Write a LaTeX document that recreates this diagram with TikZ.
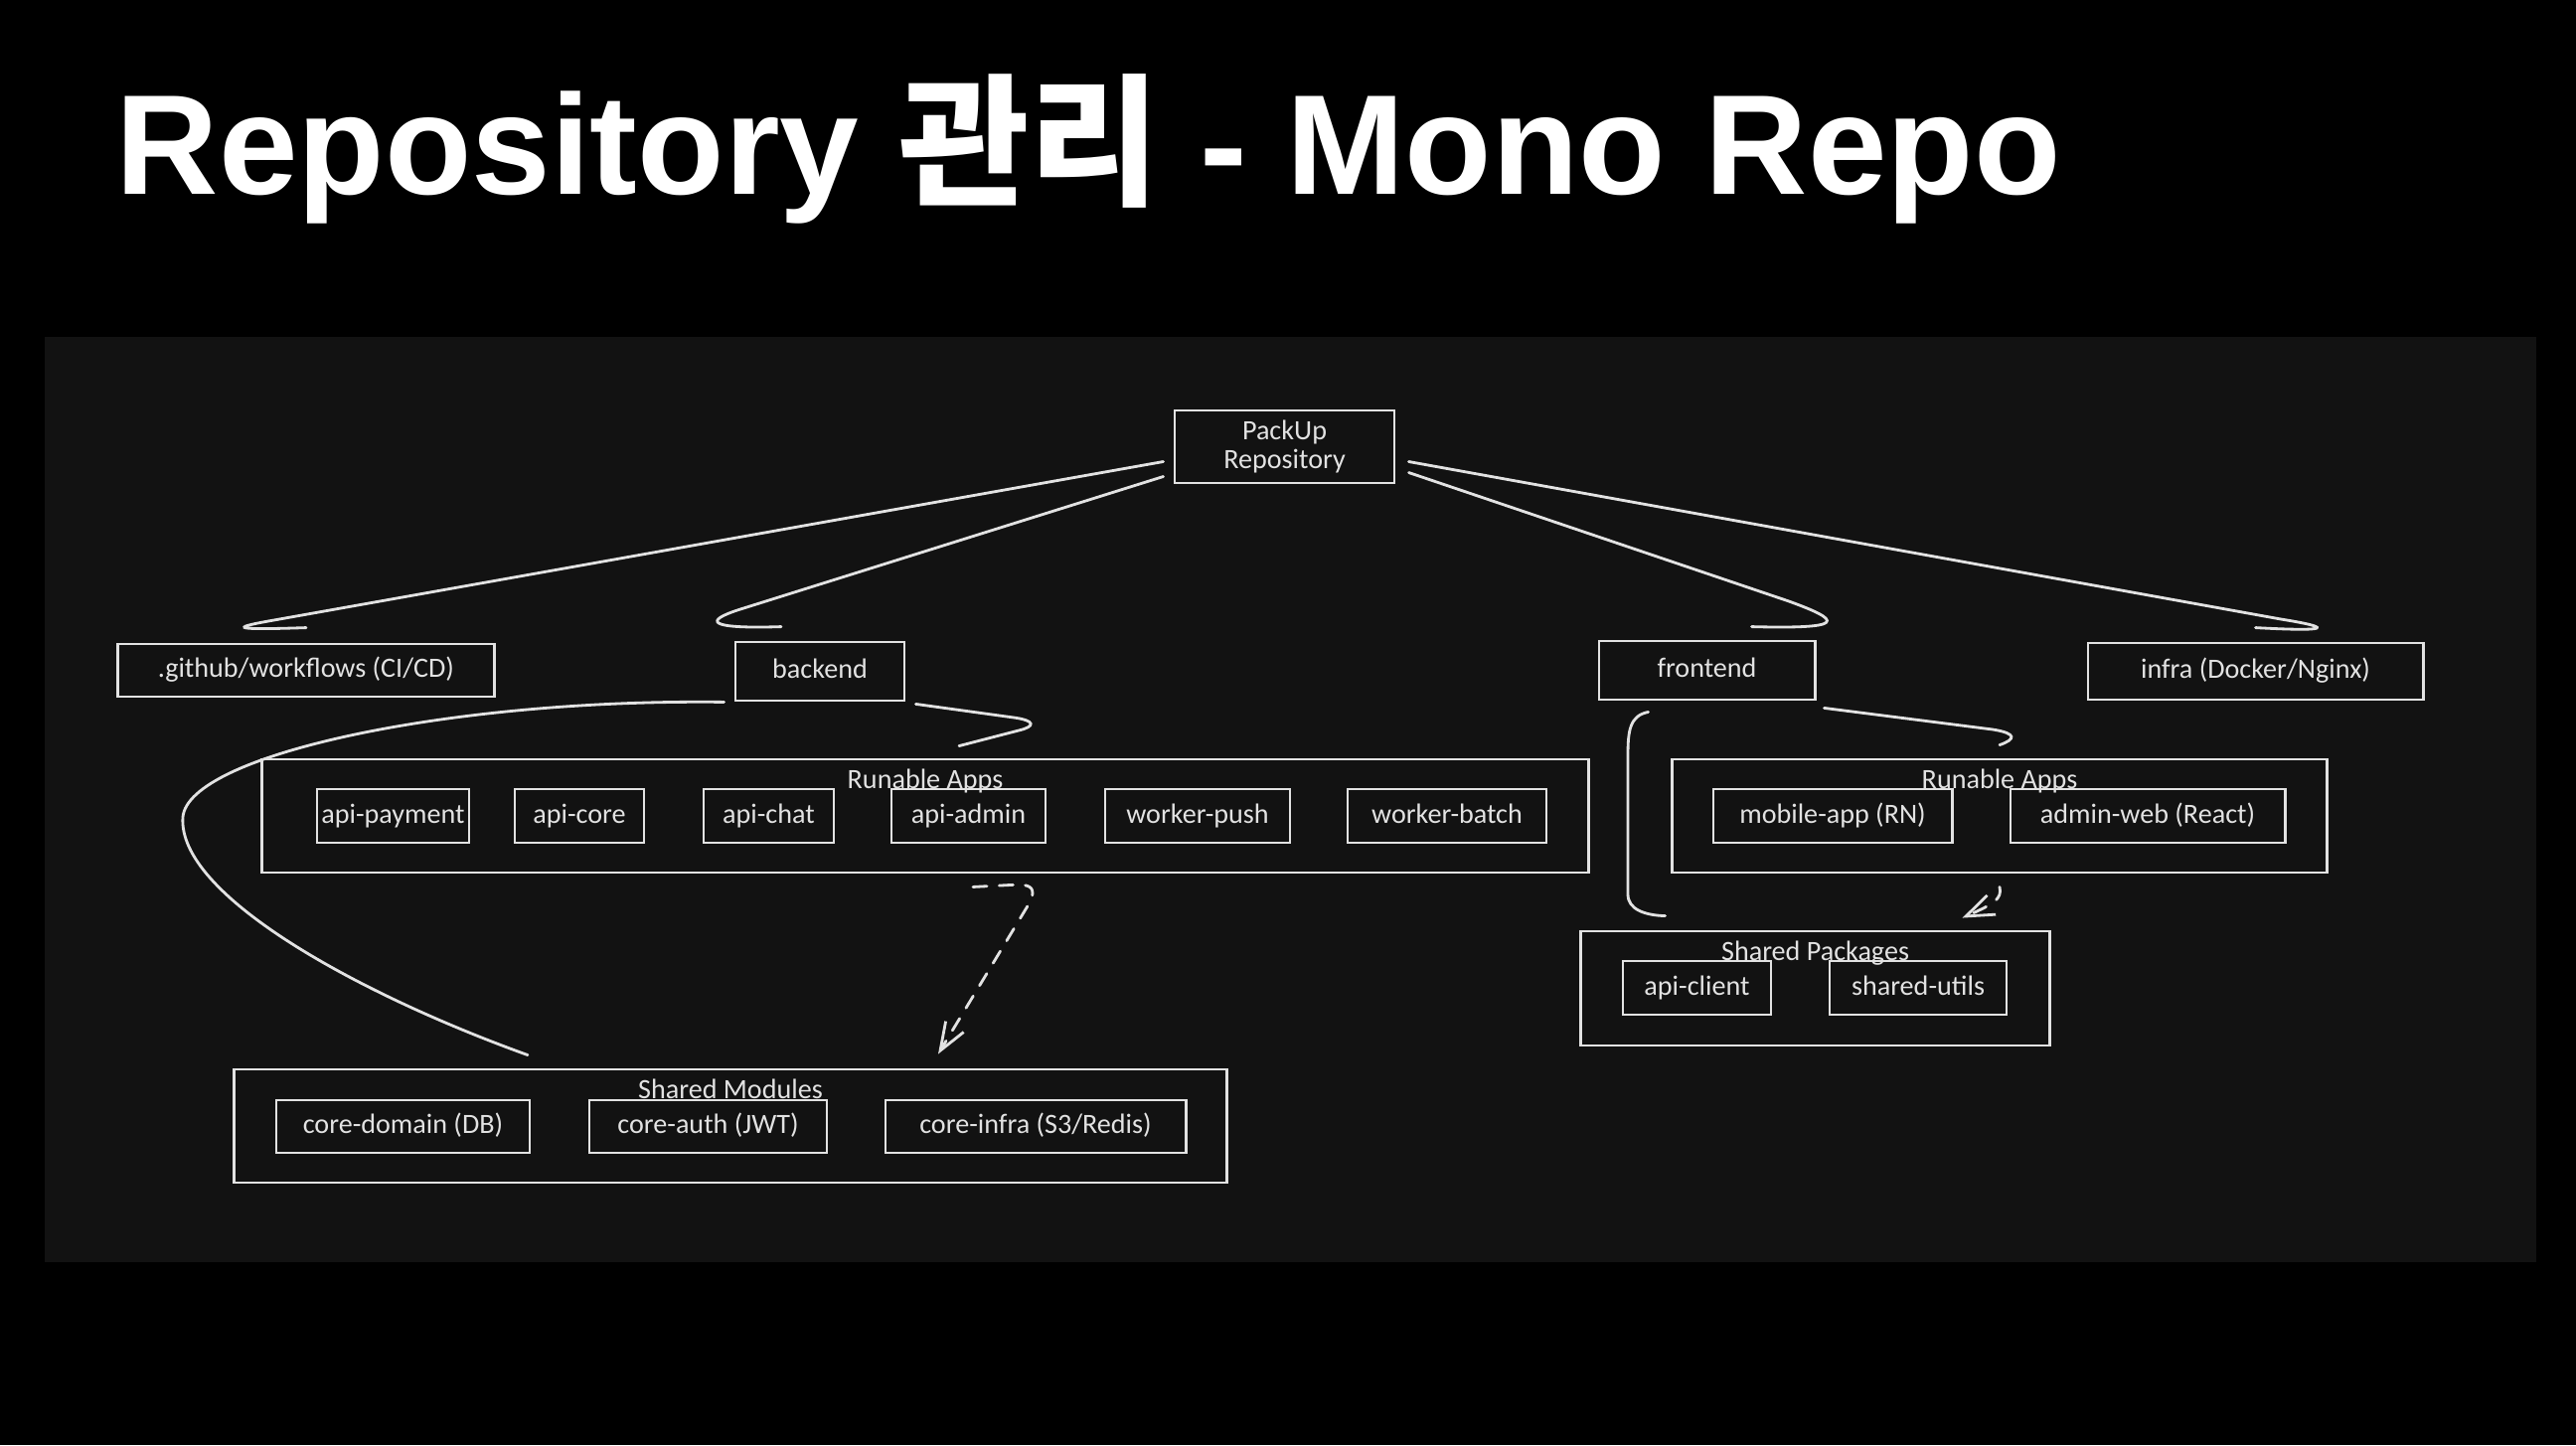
\documentclass[tikz,border=0pt]{standalone}
\usepackage{fontspec}
\setmainfont{Carlito}
\newfontfamily\titlefont{Liberation Sans}
\newfontfamily\krfont{Noto Sans CJK KR}
\usetikzlibrary{positioning,calc,arrows.meta}

\definecolor{panelbg}{HTML}{121212}
\definecolor{chalk}{HTML}{E2E2E2}

\tikzset{
  rootbox/.style={draw=chalk, line width=0.8pt, text=chalk, inner sep=0pt, align=center, font=\fontsize{8}{8.4}\selectfont},
  box/.style={rootbox, text height=5.6pt, text depth=1.6pt},
  group/.style={draw=chalk, line width=0.8pt, inner sep=0pt},
  grouplabel/.style={text=chalk, inner sep=0pt, font=\fontsize{8}{8.4}\selectfont},
  link/.style={draw=chalk, line width=0.8pt, line cap=round},
  deplink/.style={link, dash pattern=on 4pt off 3.5pt, -{Straight Barb[length=8pt,width=6pt]}},
  slidetitle/.style={text=white, inner sep=0pt, font=\fontsize{40.7}{48}\selectfont\titlefont\bfseries},
}

\begin{document}
\begin{tikzpicture}[x=0.01cm, y=-0.01cm]
  \useasboundingbox (0,0) rectangle (2592,1454);
  \fill[black] (0,0) rectangle (2592,1454);
  \fill[panelbg] (45,339) rectangle (2552,1270);
  \node[slidetitle, anchor=base west] (title) at (116,195) {Repository {\krfont 관리} - Mono Repo};

  \node[rootbox, minimum width=2.21cm, minimum height=0.73cm] (repo) at (1292.5,449.5) {PackUp\\Repository};
  \node[box, minimum width=3.78cm, minimum height=0.53cm] (github) at (308,674.5) {.github/workflows (CI/CD)};
  \node[box, minimum width=1.70cm, minimum height=0.59cm] (backend) at (825,675.5) {backend};
  \node[box, minimum width=2.17cm, minimum height=0.59cm] (frontend) at (1717.5,674.5) {frontend};
  \node[box, minimum width=3.37cm, minimum height=0.57cm] (infra) at (2269.5,675.5) {infra (Docker/Nginx)};

  \node[group, minimum width=13.34cm, minimum height=1.14cm] (beapps) at (931,821) {};
  \node[grouplabel, below=3pt of beapps.north] (beappslabel) {Runable Apps};
  \node[box, minimum width=1.53cm, minimum height=0.54cm] (apipay) at (395.5,821) {api-payment};
  \node[box, minimum width=1.30cm, minimum height=0.54cm] (apicore) at (583,821) {api-core};
  \node[box, minimum width=1.31cm, minimum height=0.54cm] (apichat) at (773.5,821) {api-chat};
  \node[box, minimum width=1.55cm, minimum height=0.54cm] (apiadmin) at (974.5,821) {api-admin};
  \node[box, minimum width=1.86cm, minimum height=0.54cm] (wpush) at (1205,821) {worker-push};
  \node[box, minimum width=2.00cm, minimum height=0.54cm] (wbatch) at (1456,821) {worker-batch};

  \node[group, minimum width=6.58cm, minimum height=1.14cm] (feapps) at (2012,821) {};
  \node[grouplabel, below=3pt of feapps.north] (feappslabel) {Runable Apps};
  \node[box, minimum width=2.40cm, minimum height=0.54cm] (mobile) at (1844,821) {mobile-app (RN)};
  \node[box, minimum width=2.76cm, minimum height=0.54cm] (adminweb) at (2161,821) {admin-web (React)};

  \node[group, minimum width=4.71cm, minimum height=1.15cm] (pkgs) at (1826.5,994.5) {};
  \node[grouplabel, below=3pt of pkgs.north] (pkgslabel) {Shared Packages};
  \node[box, minimum width=1.49cm, minimum height=0.54cm] (apiclient) at (1707.5,994) {api-client};
  \node[box, minimum width=1.78cm, minimum height=0.54cm] (sharedutils) at (1930,994) {shared-utils};

  \node[group, minimum width=9.98cm, minimum height=1.14cm] (mods) at (735,1133) {};
  \node[grouplabel, below=3pt of mods.north] (modslabel) {Shared Modules};
  \node[box, minimum width=2.55cm, minimum height=0.53cm] (coredomain) at (405.5,1133.5) {core-domain (DB)};
  \node[box, minimum width=2.39cm, minimum height=0.53cm] (coreauth) at (712.5,1133.5) {core-auth (JWT)};
  \node[box, minimum width=3.02cm, minimum height=0.53cm] (coreinfra) at (1042,1133.5) {core-infra (S3/Redis)};

  \draw[link] ($(repo.west)+(-10,15)$) -- (270,625) .. controls (231,632) and (236,634) .. ($(github.north)+(0,-15)$);
  \draw[link] ($(repo.west)+(-10,30)$) -- (745,613) .. controls (707,625) and (712,633) .. ($(backend.north)+(-39,-14)$);
  \draw[link] ($(repo.east)+(13,26)$) -- (1800,605) .. controls (1855,625) and (1858,633) .. ($(frontend.north)+(45,-13)$);
  \draw[link] ($(repo.east)+(13,15)$) -- (2295,623) .. controls (2345,631) and (2350,636) .. ($(infra.north)+(0,-14)$);
  \draw[link] ($(backend.south east)+(10,2)$) -- (1020,722) .. controls (1042,725) and (1042,731) .. (1025,735) -- ($(beapps.north)+(34,-12)$);
  \draw[link] ($(backend.south west)+(-10,0)$) .. controls (450,703) and (190,760) .. (184,822) .. controls (178,900) and (360,1000) .. ($(mods.north)+(-204,-13)$);
  \draw[link] ($(frontend.south east)+(8,7)$) -- (2005,734) .. controls (2030,738) and (2028,744) .. ($(feapps.north)+(0,-13)$);
  \draw[link] ($(frontend.south west)+(51,11)$) .. controls (1640,720) and (1638,735) .. (1638,760) -- (1638,900) .. controls (1638,915) and (1655,921) .. ($(pkgs.north west)+(86,-14)$);
  \draw[deplink] ($(beapps.south)+(48,13)$) -- (1026,890) .. controls (1040,891) and (1040,896) .. (1038,905) -- ($(mods.north)+(209,-14)$);
  \draw[deplink] ($(feapps.south)+(0,13)$) .. controls (2015,905) and (2005,910) .. ($(pkgs.north)+(148,-12)$);
\end{tikzpicture}
\end{document}
